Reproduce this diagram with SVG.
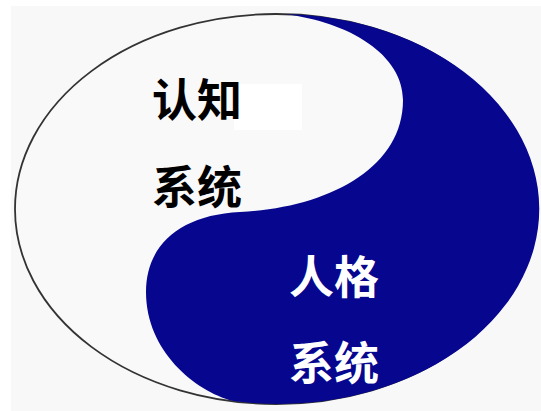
<svg xmlns="http://www.w3.org/2000/svg" width="541" height="411" viewBox="0 0 541 411">
<style>
.t{font-family:"Noto Sans CJK SC","Noto Sans CJK TC",sans-serif;font-weight:bold;font-size:45px}
.k{fill:#000}
.w{fill:#fff}
</style>
<rect width="541" height="411" fill="#fff"/>
<rect x="11" y="6" width="530" height="405" fill="#f8f8f8"/>
<g id="yin">
<ellipse cx="276" cy="209" rx="261" ry="195" fill="#f9f9f9" stroke="#333" stroke-width="1.8"/>
<rect x="234" y="84" width="68" height="46" fill="#fff"/>
</g>
<g id="yang">
<path d="M284,14 A261 195 0 1 1 233,401 C195,391 146,351 146,292 C146,245 180,215 240,212 C325,208 403,170 403,100 C403,55 350,22 284,14 Z" fill="#06068f"/>
</g>
<g id="cognitive">
<text class="t k" x="152" y="117">认知</text>
<text class="t k" x="152" y="204">系统</text>
</g>
<g id="personality">
<text class="t w" x="289" y="294">人格</text>
<text class="t w" x="289" y="380">系统</text>
</g>
<g id="connectors"></g>
</svg>
